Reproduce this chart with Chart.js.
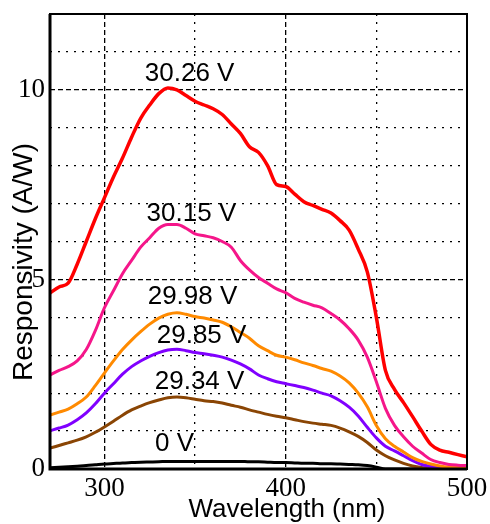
<!DOCTYPE html>
<html>
<head>
<meta charset="utf-8">
<script src="https://cdn.jsdelivr.net/npm/chart.js@4/dist/chart.umd.min.js"></script>
<style>
  html, body { margin: 0; padding: 0; background: #fff; }
  #wrap { width: 490px; height: 524px; }
</style>
</head>
<body>
<div id="wrap"><canvas id="chart" width="490" height="524"></canvas></div>
<script>
// wavelength (nm), 5 nm steps
const wavelengths = [270,275,280,285,290,295,300,305,310,315,320,325,330,335,340,345,350,355,360,365,370,375,380,385,390,395,400,405,410,415,420,425,430,435,440,445,450,455,460,465,470,475,480,485,490,495,500];

const resp3026 = [4.64,4.8,4.9,5.4,6.0,6.6,7.15,7.7,8.2,8.75,9.25,9.6,9.9,10.05,10.0,9.85,9.7,9.6,9.5,9.35,9.1,8.85,8.5,8.35,8.0,7.5,7.45,7.25,7.05,6.95,6.85,6.75,6.55,6.3,5.8,5.2,4.0,2.6,2.1,1.75,1.38,1.0,0.65,0.5,0.44,0.38,0.32];
const resp3015 = [2.48,2.6,2.7,2.85,3.15,3.65,4.25,4.7,5.15,5.5,5.85,6.1,6.35,6.45,6.45,6.35,6.2,6.15,6.1,6.0,5.85,5.5,5.25,5.05,4.9,4.75,4.65,4.5,4.4,4.32,4.25,4.1,3.93,3.7,3.4,2.95,2.3,1.6,1.15,0.85,0.6,0.42,0.25,0.17,0.12,0.1,0.09];
const resp2998 = [1.42,1.5,1.58,1.72,1.9,2.2,2.53,2.85,3.15,3.4,3.62,3.82,3.98,4.08,4.12,4.08,4.02,3.98,3.93,3.87,3.75,3.6,3.45,3.25,3.12,3.0,2.95,2.88,2.8,2.73,2.65,2.58,2.45,2.27,2.0,1.64,1.15,0.8,0.6,0.45,0.3,0.2,0.13,0.08,0.05,0.04,0.03];
const resp2985 = [1.01,1.08,1.16,1.3,1.48,1.72,2.0,2.25,2.5,2.7,2.85,2.97,3.07,3.14,3.16,3.12,3.07,3.04,3.0,2.95,2.87,2.77,2.64,2.48,2.38,2.3,2.25,2.2,2.15,2.08,2.0,1.93,1.8,1.63,1.4,1.1,0.82,0.6,0.48,0.35,0.22,0.12,0.07,0.04,0.02,0.01,0.01];
const resp2934 = [0.55,0.62,0.69,0.76,0.85,0.97,1.11,1.26,1.42,1.56,1.66,1.75,1.82,1.88,1.9,1.88,1.84,1.8,1.78,1.74,1.68,1.63,1.56,1.5,1.44,1.39,1.35,1.3,1.25,1.21,1.18,1.15,1.08,0.98,0.86,0.7,0.5,0.35,0.24,0.15,0.08,0.04,0.02,0.01,0,0,0];
const resp0 = [0.03,0.045,0.06,0.075,0.09,0.11,0.13,0.145,0.16,0.17,0.18,0.185,0.19,0.2,0.2,0.2,0.2,0.2,0.2,0.2,0.2,0.2,0.19,0.19,0.18,0.17,0.17,0.16,0.15,0.15,0.14,0.14,0.13,0.12,0.11,0.09,0.05,0,0,0,0,0,0,0,0,0,0];

const seriesNames = ['30.26 V','30.15 V','29.98 V','29.85 V','29.34 V','0 V'];
const seriesValues = [resp3026, resp3015, resp2998, resp2985, resp2934, resp0];
const seriesColors = ['#ff0000','#f5168a','#ff8a00','#8000ff','#8a4504','#000000'];

// where each voltage label sits (nm, A/W at text baseline)
const labelX = [347, 348, 348.6, 353.6, 352.5, 338.7];
const labelY = [10.22, 6.55, 4.35, 3.32, 2.1, 0.47];

const xTicks = [300, 400, 500];
const yTicks = [0, 5, 10];

const datasets = seriesValues.map((vals, i) => ({
  label: seriesNames[i],
  data: wavelengths.map((w, j) => ({ x: w, y: vals[j] })),
  borderColor: seriesColors[i],
  borderWidth: i === 0 ? 3.5 : 3,
  pointRadius: 0,
  cubicInterpolationMode: 'monotone',
  fill: false
}));

const dressing = {
  id: 'dressing',
  afterDatasetsDraw(chart) {
    const { ctx, chartArea: a, scales } = chart;
    ctx.save();
    // frame
    ctx.strokeStyle = '#000';
    ctx.lineWidth = 2;
    ctx.strokeRect(a.left, a.top, a.right - a.left, a.bottom - a.top);
    ctx.lineWidth = 3;
    ctx.beginPath();
    ctx.moveTo(a.left, a.top);
    ctx.lineTo(a.left, a.bottom);
    ctx.lineTo(a.right, a.bottom);
    ctx.stroke();

    // voltage labels
    ctx.fillStyle = '#000';
    ctx.font = '26px "Liberation Sans", Arial, sans-serif';
    ctx.textAlign = 'center';
    ctx.textBaseline = 'alphabetic';
    seriesNames.forEach((n, i) => {
      ctx.fillText(n, scales.x.getPixelForValue(labelX[i]), scales.y.getPixelForValue(labelY[i]));
    });

    // axis titles
    ctx.font = '26px "Liberation Sans", Arial, sans-serif';
    ctx.fillText('Wavelength (nm)', 287, 517);
    ctx.font = '28px "Liberation Sans", Arial, sans-serif';
    ctx.translate(32, 262);
    ctx.rotate(-Math.PI / 2);
    ctx.fillText('Responsivity (A/W)', 0, 0);
    ctx.restore();
  }
};

const tickFont = { family: '"Liberation Serif", "Times New Roman", serif', size: 27 };

new Chart(document.getElementById('chart'), {
  type: 'line',
  data: { datasets },
  options: {
    responsive: false,
    animation: false,
    layout: { padding: { top: 14, right: 23, left: 0, bottom: 0 } },
    plugins: { legend: { display: false }, tooltip: { enabled: false } },
    scales: {
      x: {
        type: 'linear', min: 270, max: 500,
        afterFit: s => { s.height = 55; s.paddingLeft = 0; s.paddingRight = 0; },
        afterBuildTicks: s => { s.ticks = xTicks.map(v => ({ value: v })); },
        ticks: { font: tickFont, color: '#000', padding: 4, maxRotation: 0 },
        grid: { drawTicks: false, lineWidth: 1.3,
          color: c => (c.tick && c.tick.value === 500) ? 'rgba(0,0,0,0)' : '#000' },
        border: { display: false, dash: [5, 3] }
      },
      x2: {
        type: 'linear', min: 270, max: 500, position: 'bottom',
        afterFit: s => { s.height = 0; s.paddingLeft = 0; s.paddingRight = 0; },
        ticks: { display: false, stepSize: 50 },
        grid: { drawTicks: false, lineWidth: 1.3,
          color: c => (c.tick && c.tick.value % 100 === 0) ? 'rgba(0,0,0,0)' : '#000' },
        border: { display: false, dash: [2, 6] }
      },
      y: {
        type: 'linear', min: 0, max: 12,
        afterFit: s => { s.width = 50; s.paddingTop = 0; s.paddingBottom = 0; },
        afterBuildTicks: s => { s.ticks = yTicks.map(v => ({ value: v })); },
        ticks: { font: tickFont, color: '#000', padding: 5 },
        grid: { drawTicks: false, lineWidth: 1.3,
          color: c => (c.tick && c.tick.value === 0) ? 'rgba(0,0,0,0)' : '#000' },
        border: { display: false, dash: [5, 3] }
      },
      y2: {
        type: 'linear', min: 0, max: 12, position: 'left',
        afterFit: s => { s.width = 0; s.paddingTop = 0; s.paddingBottom = 0; },
        ticks: { display: false, stepSize: 1 },
        grid: { drawTicks: false, lineWidth: 1.3,
          color: c => (c.tick && (c.tick.value % 5 === 0 || c.tick.value === 12)) ? 'rgba(0,0,0,0)' : '#000' },
        border: { display: false, dash: [2, 6] }
      }
    }
  },
  plugins: [dressing]
});
</script>
</body>
</html>
